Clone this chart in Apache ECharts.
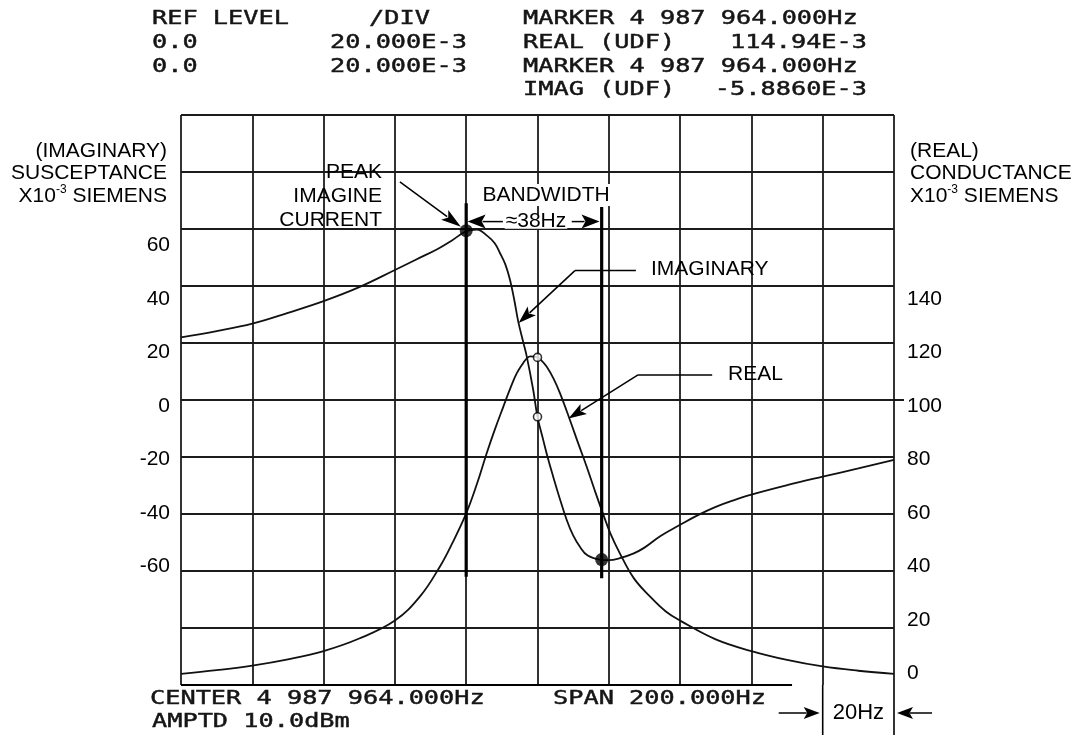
<!DOCTYPE html>
<html>
<head>
<meta charset="utf-8">
<script src="https://cdn.jsdelivr.net/npm/echarts@6/dist/echarts.min.js"></script>
<style>
html,body{margin:0;padding:0;background:#fff;}
#c{width:1077px;height:740px;}
</style>
</head>
<body>
<div id="c"></div>
<script>
// ---------------- data (frequency offset from centre, Hz) ----------------
const freqImag = [-100,-90,-80,-70,-60,-50,-40,-34,-28,-24,-20,-17,-14,-12,-10.5,-9,-7.7,-6.5,-5.4,-4,-3,-1.2,0,1.6,3,4.4,6,8.2,10,11.9,14,17.5,20,23.1,27,30,34.4,40,45,50,55,60,70,80,90,100];
const imagValues = [22.0,24.2,26.8,30.6,34.7,39.6,45.6,49.3,53.0,56.0,59.2,59.8,57.5,55.0,51.5,47.5,42.1,35.0,27.5,20.3,15.2,3.5,-5.9,-14.0,-20.8,-26.9,-33.6,-42.1,-47.5,-51.5,-54.5,-56.0,-56.2,-55.5,-53.8,-51.8,-47.8,-43.8,-40.4,-37.5,-35.2,-33.2,-29.9,-26.9,-24.0,-21.0];

const freqReal = [-100,-90,-80,-70,-60,-50,-40,-33,-27.4,-24,-20,-17,-14.25,-12,-9.6,-7.5,-5.8,-4,-3,-2,0,1,2.6,4.5,6.3,9.1,11.5,13.8,16,18,20.5,23.1,27,31.6,36,40,50,60,70,80,90,100];
const realValues = [3.9,5.2,6.8,9.0,11.9,16.3,22.6,31.0,41.5,49.5,60.2,70.5,81.3,89.5,97.6,104.5,109.4,113.0,114.6,115.3,114.94,114.0,111.7,107.5,102.4,93.0,84.5,76.6,68.5,61.4,53.0,46.2,37.5,31.0,25.8,22.6,16.0,11.9,8.8,6.5,5.0,3.9];

const leftTickLabels = [-60,-40,-20,0,20,40,60];
const rightTickLabels = [0,20,40,60,80,100,120,140];

const peakMarkerHz = -20;
const peakMarkerSpan = [69, -62];
const bwMarkerHz = 18;
const bwMarkerSpan = [67.7, -62.5];
const filledDots = [[-20, 59.4], [18, -56]];
const markerReal = [0, 114.94];
const markerImag = [0, -5.886];

// annotation arrows in (Hz, imaginary units)
const annotationArrows = [
  {from:[-38.6, 76.5], to:[-21.5, 60.8], arrow:true, L:20, W:6},
  {from:[-9.7, 62.6], to:[-19.6, 62.6], arrow:true, L:18, W:7},
  {from:[9.6, 62.6], to:[17.4, 62.6], arrow:true, L:18, W:7},
  {from:[27.6, 45.4], to:[10.5, 45.4], arrow:false},
  {from:[10.5, 45.4], to:[-5.3, 27.0], arrow:true, L:18, W:6},
  {from:[49.0, 8.8], to:[28.2, 8.8], arrow:false},
  {from:[28.2, 8.8], to:[8.7, -6.5], arrow:true, L:18, W:6}
];

const SANS = '"Liberation Sans", Arial, Helvetica, sans-serif';
const MONO = '"DejaVu Sans Mono", "Liberation Mono", monospace';
const GRID_COLOR = '#1c1c1c';

const chart = echarts.init(document.getElementById('c'), null, {renderer:'canvas'});

const option = {
  animation: false,
  backgroundColor: '#ffffff',
  tooltip: {show:false},
  grid: [
    {left:181, top:115, width:713, height:570},
    {left:181, top:138.5, width:713, height:535}
  ],
  xAxis: [
    {gridIndex:0, type:'value', min:-100, max:100, interval:20,
     axisLine:{show:false}, axisTick:{show:false}, axisLabel:{show:false},
     splitLine:{show:true, lineStyle:{color:GRID_COLOR, width:1.8}}},
    {gridIndex:1, type:'value', min:-100, max:100, show:false}
  ],
  yAxis: [
    {gridIndex:0, type:'value', min:-100, max:100, interval:20, position:'left',
     axisLine:{show:false}, axisTick:{show:false}, axisLabel:{show:false},
     splitLine:{show:true, showMinLine:false, lineStyle:{color:GRID_COLOR, width:1.8}}},
    {gridIndex:0, type:'value', min:0, max:200, interval:20, position:'right',
     axisLine:{show:false}, axisTick:{show:false}, axisLabel:{show:false}, splitLine:{show:false}},
    {gridIndex:1, type:'value', min:-100, max:100, interval:20, position:'left',
     axisLine:{show:false}, axisTick:{show:false}, splitLine:{show:false},
     axisLabel:{margin:11, fontSize:21, color:'#000', fontFamily:SANS,
       formatter: v => leftTickLabels.indexOf(v) >= 0 ? String(v) : ''}},
    {gridIndex:1, type:'value', min:0, max:200, interval:20, position:'right',
     axisLine:{show:false}, axisTick:{show:false}, splitLine:{show:false},
     axisLabel:{margin:13, fontSize:21, color:'#000', fontFamily:SANS,
       formatter: v => rightTickLabels.indexOf(v) >= 0 ? String(v) : ''}}
  ],
  series: [
    {type:'line', name:'IMAGINARY', xAxisIndex:0, yAxisIndex:0, silent:true,
     data: freqImag.map((f,i)=>[f, imagValues[i]]), symbol:'none', smooth:0.4,
     lineStyle:{color:'#111', width:1.8}, z:3},
    {type:'line', name:'REAL', xAxisIndex:0, yAxisIndex:1, silent:true,
     data: freqReal.map((f,i)=>[f, realValues[i]]), symbol:'none', smooth:0.4,
     lineStyle:{color:'#111', width:1.8}, z:3},
    {type:'line', xAxisIndex:0, yAxisIndex:0, silent:true, symbol:'none',
     data:[[peakMarkerHz, peakMarkerSpan[0]],[peakMarkerHz, peakMarkerSpan[1]]],
     lineStyle:{color:'#000', width:3.2}, z:4},
    {type:'line', xAxisIndex:0, yAxisIndex:0, silent:true, symbol:'none',
     data:[[bwMarkerHz, bwMarkerSpan[0]],[bwMarkerHz, bwMarkerSpan[1]]],
     lineStyle:{color:'#000', width:3.2}, z:4},
    {type:'scatter', xAxisIndex:0, yAxisIndex:0, silent:true, data: filledDots,
     symbol:'circle', symbolSize:13, itemStyle:{color:'#000'}, z:6},
    {type:'scatter', xAxisIndex:0, yAxisIndex:1, silent:true, data:[markerReal],
     symbol:'circle', symbolSize:8, itemStyle:{color:'#fff', borderColor:'#000', borderWidth:1.6}, z:7},
    {type:'scatter', xAxisIndex:0, yAxisIndex:0, silent:true, data:[markerImag],
     symbol:'circle', symbolSize:8, itemStyle:{color:'#fff', borderColor:'#000', borderWidth:1.6}, z:7}
  ]
};
chart.setOption(option);

// ---------------- texts & annotations ----------------
function mono(text, x, y, align) {
  return {type:'text', x:x, y:y, scaleX:1.33, z:20, silent:true,
    style:{text:text, font:'19px ' + MONO, fill:'#151515', stroke:'#151515', lineWidth:0.45,
      textAlign:align||'left', align:align||'left', textVerticalAlign:'middle', verticalAlign:'middle'}};
}
function sans(text, x, y, align, extra) {
  const st = {text:text, font:'21px ' + SANS, fill:'#000',
    textAlign:align||'left', align:align||'left', textVerticalAlign:'middle', verticalAlign:'middle'};
  if (extra) Object.assign(st, extra);
  return {type:'text', x:x, y:y, z:20, silent:true, style:st};
}
function supText(x, y, align) {
  const base = {fontSize:21, fontFamily:SANS, fill:'#000', lineHeight:24, verticalAlign:'middle'};
  return {type:'text', x:x, y:y, z:20, silent:true,
    style:{text:'{n|X10}{s|-3}{n| SIEMENS}', textAlign:align, align:align,
      textVerticalAlign:'middle', verticalAlign:'middle',
      rich:{n:base, s:{fontSize:12, fontFamily:SANS, fill:'#000', verticalAlign:'top', lineHeight:13}}}};
}

const P = (x, y) => chart.convertToPixel({xAxisIndex:0, yAxisIndex:0}, [x, y]);
const els = [];

function arrowPx(s, t, L, W, lw) {
  const dx = t[0]-s[0], dy = t[1]-s[1], len = Math.hypot(dx, dy);
  const ux = dx/len, uy = dy/len;
  const bx = t[0]-ux*L, by = t[1]-uy*L;
  els.push({type:'line', silent:true, z:15,
    shape:{x1:s[0], y1:s[1], x2:bx+ux*3, y2:by+uy*3}, style:{stroke:'#000', lineWidth:lw||1.5}});
  els.push({type:'polygon', silent:true, z:15,
    shape:{points:[[t[0],t[1]],[bx-uy*W, by+ux*W],[t[0]-ux*L*0.78, t[1]-uy*L*0.78],[bx+uy*W, by-ux*W]]},
    style:{fill:'#000'}});
}
function linePx(a, b, w) {
  els.push({type:'line', silent:true, z:15, shape:{x1:a[0], y1:a[1], x2:b[0], y2:b[1]},
    style:{stroke:'#000', lineWidth:w||1.5}});
}

annotationArrows.forEach(a => {
  const s = P(a.from[0], a.from[1]), t = P(a.to[0], a.to[1]);
  if (a.arrow) arrowPx(s, t, a.L, a.W); else linePx(s, t);
});

// partial bottom border, extended division ticks and 20 Hz scale
const bl = P(-100, -100), br = P(71.4, -100);
linePx(bl, br, 1.8);
const p80 = P(80, -100), p100 = P(100, -100);
linePx([p80[0], p80[1]], [p80[0], p80[1]+50], 1.6);
linePx([p100[0], p100[1]], [p100[0], p100[1]+50], 1.6);
const ay = p80[1] + 28;
arrowPx([p80[0]-44, ay], [p80[0]-3, ay], 16, 6);
arrowPx([p100[0]+38, ay], [p100[0]+3, ay], 16, 6);
els.push(sans('20Hz', (p80[0]+p100[0])/2, ay, 'center', {font:'22px ' + SANS}));
const c100 = P(100, 0);
linePx(c100, [c100[0]+10, c100[1]], 1.8);

// header (analyzer readout)
els.push(mono('REF LEVEL', 152, 19));
els.push(mono('/DIV', 369, 19));
els.push(mono('MARKER 4 987 964.000Hz', 523, 19));
els.push(mono('0.0', 152, 43.5));
els.push(mono('20.000E-3', 330, 43.5));
els.push(mono('REAL (UDF)', 523, 43.5));
els.push(mono('114.94E-3', 867, 43.5, 'right'));
els.push(mono('0.0', 152, 67));
els.push(mono('20.000E-3', 330, 67));
els.push(mono('MARKER 4 987 964.000Hz', 523, 67));
els.push(mono('IMAG (UDF)', 523, 90.5));
els.push(mono('-5.8860E-3', 867, 90.5, 'right'));
// footer
els.push(mono('CENTER 4 987 964.000Hz', 150, 699));
els.push(mono('SPAN 200.000Hz', 553, 699));
els.push(mono('AMPTD 10.0dBm', 152, 722));

// axis titles
els.push(sans('(IMAGINARY)', 167, 151, 'right'));
els.push(sans('SUSCEPTANCE', 167, 173, 'right'));
els.push(supText(167, 196, 'right'));
els.push(sans('(REAL)', 910, 151, 'left'));
els.push(sans('CONDUCTANCE', 910, 173, 'left'));
els.push(supText(910, 196, 'left'));

// plot annotations
els.push(sans('PEAK', 382, 172, 'right'));
els.push(sans('IMAGINE', 382, 196, 'right'));
els.push(sans('CURRENT', 382, 220, 'right'));
els.push(sans('BANDWIDTH', 480.5, 195, 'left', {backgroundColor:'#fff', padding:[0,2], lineHeight:22}));
els.push(sans('\u224838Hz', 536, 221.7, 'center', {backgroundColor:'#fff', padding:[0,1], lineHeight:14}));
els.push(sans('IMAGINARY', 651, 269, 'left'));
els.push(sans('REAL', 728, 374, 'left'));

chart.setOption({graphic:{elements:els}});
</script>
</body>
</html>
